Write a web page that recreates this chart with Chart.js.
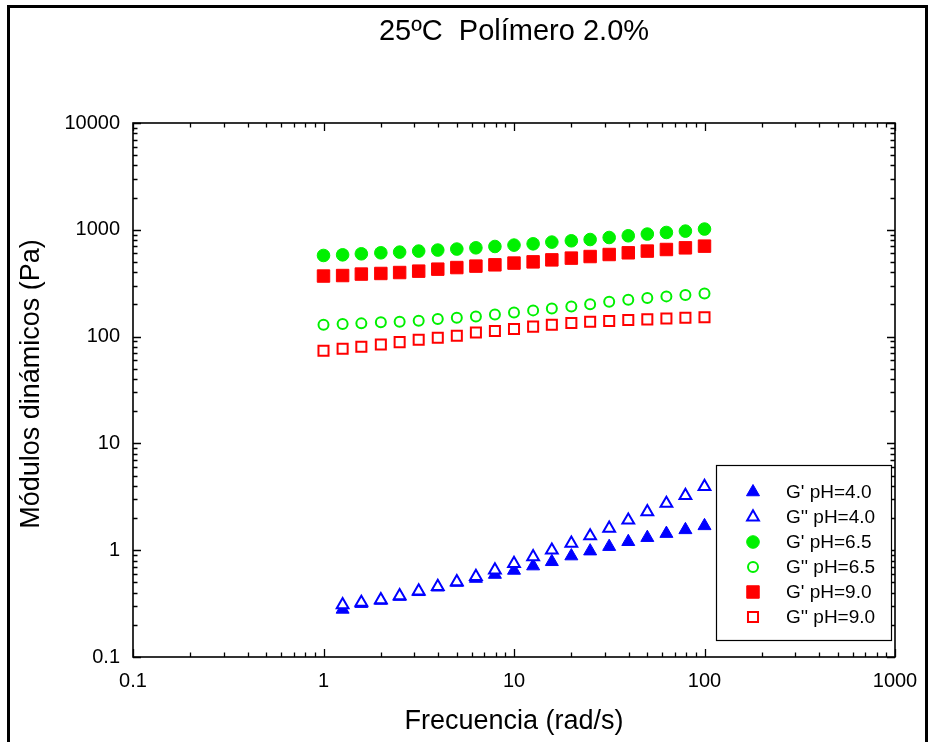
<!DOCTYPE html>
<html>
<head>
<meta charset="utf-8">
<title>25ºC Polímero 2.0%</title>
<script src="https://cdn.jsdelivr.net/npm/chart.js@4/dist/chart.umd.min.js"></script>
<style>
  html, body { margin: 0; padding: 0; background: #fff; overflow: hidden; }
  #wrap { position: relative; width: 930px; height: 742px; }
  #frame { position: absolute; left: 7px; top: 5px; width: 921px; height: 800px;
           border: 3px solid #000; box-sizing: border-box; }
  canvas { position: absolute; left: 0; top: 0; }
</style>
</head>
<body>
<div id="wrap">
  <div id="frame"></div>
  <canvas id="c" width="930" height="742"></canvas>
</div>
<script>
// Frequencies (rad/s)
const freq = [1, 1.26, 1.58, 2, 2.51, 3.16, 3.98, 5.01, 6.31, 7.94, 10,
              12.6, 15.8, 20, 25.1, 31.6, 39.8, 50.1, 63.1, 79.4, 100];
const freqPH4 = [1.26, 1.58, 2, 2.51, 3.16, 3.98, 5.01, 6.31, 7.94, 10,
                 12.6, 15.8, 20, 25.1, 31.6, 39.8, 50.1, 63.1, 79.4, 100];

// Dynamic moduli (Pa)
const gStoragePH40 = [0.279, 0.316, 0.338, 0.368, 0.408, 0.450, 0.498, 0.543, 0.592, 0.646,
                      0.710, 0.779, 0.881, 0.98, 1.08, 1.20, 1.31, 1.43, 1.55, 1.69];
const gLossPH40    = [0.308, 0.324, 0.343, 0.374, 0.414, 0.457, 0.506, 0.567, 0.651, 0.750,
                      0.867, 1.00, 1.16, 1.36, 1.60, 1.91, 2.29, 2.74, 3.25, 3.95];
const gStoragePH65 = [575, 583, 596, 609, 618, 632, 646, 660, 678, 698, 719,
                      739, 767, 789, 811, 847, 879, 912, 944, 972, 1016];
const gLossPH65    = [129, 131, 133, 136, 138, 141, 146, 150, 154, 161, 168,
                      176, 183, 191, 201, 212, 221, 230, 238, 245, 253];
const gStoragePH90 = [369, 373, 385, 390, 398, 410, 428, 443, 457, 470, 488,
                      501, 523, 543, 562, 587, 609, 632, 654, 678, 703];
const gLossPH90    = [73.6, 76.9, 80.2, 84.3, 88.8, 93.3, 97.4, 102, 109, 113, 118,
                      124, 129, 134, 138, 140, 143, 145, 148, 150, 152];

const seriesNames = ["G' pH=4.0", "G'' pH=4.0", "G' pH=6.5", "G'' pH=6.5", "G' pH=9.0", "G'' pH=9.0"];
const xTickLabels = ['0.1', '1', '10', '100', '1000'];
const yTickLabels = ['0.1', '1', '10', '100', '1000', '10000'];

const FONT = "'Liberation Sans', Arial, Helvetica, sans-serif";
const BLUE = '#0000ff', GREEN = '#00f000', RED = '#ff0000';

const pairs = (xs, ys) => ys.map((v, i) => ({ x: xs[i], y: v }));

function filled(label, xs, ys, color, style, radius) {
  return { label, data: pairs(xs, ys), pointStyle: style, pointRadius: radius,
           backgroundColor: color, borderColor: color, pointBorderWidth: 1,
           showLine: false, order: 1 };
}
function hollow(label, xs, ys, color, style, radius) {
  return { label, data: pairs(xs, ys), pointStyle: style, pointRadius: radius,
           backgroundColor: '#ffffff', borderColor: color, pointBorderWidth: 2,
           showLine: false, order: 0 };
}

const datasets = [
  filled(seriesNames[0], freqPH4, gStoragePH40, BLUE, 'triangle', 7.5),
  hollow(seriesNames[1], freqPH4, gLossPH40, BLUE, 'triangle', 6.8),
  filled(seriesNames[2], freq, gStoragePH65, GREEN, 'circle', 6.3),
  hollow(seriesNames[3], freq, gLossPH65, GREEN, 'circle', 5),
  filled(seriesNames[4], freq, gStoragePH90, RED, 'rect', 8.8),
  hollow(seriesNames[5], freq, gLossPH90, RED, 'rect', 7.1)
];

function decadeLabel(labels, minValue) {
  return function (value) {
    const e = Math.log10(value);
    const k = Math.round(e);
    if (Math.abs(e - k) > 1e-6) return '';
    return labels[k - Math.round(Math.log10(minValue))] ?? '';
  };
}

// Log tick positions (1..9 per decade) for the inward tick marks
function logTicks(min, max) {
  const out = [];
  const e0 = Math.round(Math.log10(min)), e1 = Math.round(Math.log10(max));
  for (let e = e0; e < e1; e++) {
    for (let m = 1; m <= 9; m++) out.push({ v: m * Math.pow(10, e), major: m === 1 });
  }
  out.push({ v: max, major: true });
  return out;
}

const framePlugin = {
  id: 'frameAndText',
  afterDatasetsDraw(chart) {
    const { ctx, chartArea: a, scales: { x, y } } = chart;
    ctx.save();
    // plot box
    ctx.strokeStyle = '#000';
    ctx.lineWidth = 1.6;
    ctx.strokeRect(a.left, a.top, a.right - a.left, a.bottom - a.top);
    // inward ticks on all four sides
    ctx.lineWidth = 1.3;
    const MAJ = 8, MIN = 4.5;
    ctx.beginPath();
    for (const t of logTicks(x.min, x.max)) {
      const px = Math.round(x.getPixelForValue(t.v)) + 0.5;
      const len = t.major ? MAJ : MIN;
      ctx.moveTo(px, a.bottom); ctx.lineTo(px, a.bottom - len);
      ctx.moveTo(px, a.top); ctx.lineTo(px, a.top + len);
    }
    for (const t of logTicks(y.min, y.max)) {
      const py = Math.round(y.getPixelForValue(t.v)) + 0.5;
      const len = t.major ? MAJ : MIN;
      ctx.moveTo(a.left, py); ctx.lineTo(a.left + len, py);
      ctx.moveTo(a.right, py); ctx.lineTo(a.right - len, py);
    }
    ctx.stroke();

    // titles
    ctx.fillStyle = '#000';
    ctx.textAlign = 'center';
    ctx.textBaseline = 'middle';
    const cx = (a.left + a.right) / 2;
    ctx.font = '29px ' + FONT;
    ctx.fillText('25ºC  Polímero 2.0%', cx, 32);
    ctx.font = '27px ' + FONT;
    ctx.fillText('Frecuencia (rad/s)', cx, 722);
    ctx.save();
    ctx.translate(32, (a.top + a.bottom) / 2 - 6);
    ctx.rotate(-Math.PI / 2);
    ctx.fillText('Módulos dinámicos (Pa)', 0, 0);
    ctx.restore();

    // legend box
    const L = { left: a.right - 179, top: a.bottom - 192, w: 175, h: 175 };
    ctx.fillStyle = '#fff';
    ctx.fillRect(L.left, L.top, L.w, L.h);
    ctx.strokeStyle = '#000';
    ctx.lineWidth = 1.2;
    ctx.strokeRect(L.left + 0.5, L.top + 0.5, L.w, L.h);
    ctx.font = '19px ' + FONT;
    ctx.textAlign = 'left';
    chart.data.datasets.forEach((ds, i) => {
      const ry = L.top + 27 + i * 25;
      ctx.fillStyle = ds.backgroundColor;
      ctx.strokeStyle = ds.borderColor;
      ctx.lineWidth = ds.pointBorderWidth;
      Chart.helpers.drawPoint(ctx, { pointStyle: ds.pointStyle, radius: ds.pointRadius,
                                     borderWidth: ds.pointBorderWidth, rotation: 0 },
                              L.left + 37, ry);
      ctx.fillStyle = '#000';
      ctx.fillText(ds.label, L.left + 70, ry + 1);
    });
    ctx.restore();
  }
};

new Chart(document.getElementById('c'), {
  type: 'scatter',
  data: { datasets },
  options: {
    responsive: false,
    animation: false,
    devicePixelRatio: 1,
    layout: { padding: { left: 0, top: 123, right: 35, bottom: 0 } },
    plugins: { legend: { display: false }, tooltip: { enabled: false }, title: { display: false } },
    scales: {
      x: {
        type: 'logarithmic', position: 'bottom', min: 0.1, max: 1000,
        grid: { display: false, drawTicks: false },
        border: { display: false },
        ticks: { autoSkip: false, maxRotation: 0, padding: 12, color: '#000',
                 font: { family: FONT, size: 20 }, callback: decadeLabel(xTickLabels, 0.1) },
        afterFit(s) { s.height = 85; }
      },
      y: {
        type: 'logarithmic', position: 'left', min: 0.1, max: 10000,
        grid: { display: false, drawTicks: false },
        border: { display: false },
        ticks: { autoSkip: false, padding: 13, color: '#000',
                 font: { family: FONT, size: 20 }, callback: decadeLabel(yTickLabels, 0.1) },
        afterFit(s) { s.width = 133; }
      }
    }
  },
  plugins: [framePlugin]
});
</script>
</body>
</html>
